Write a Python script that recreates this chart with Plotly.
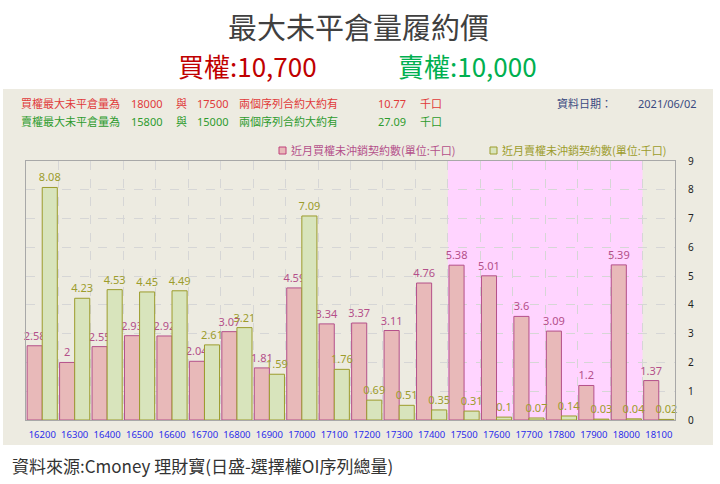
import plotly.graph_objects as go

strikes = ["16200", "16300", "16400", "16500", "16600", "16700", "16800", "16900", "17000", "17100",
           "17200", "17300", "17400", "17500", "17600", "17700", "17800", "17900", "18000", "18100"]
call_oi = [2.58, 2, 2.55, 2.93, 2.92, 2.04, 3.07, 1.81, 4.59, 3.34,
           3.37, 3.11, 4.76, 5.38, 5.01, 3.6, 3.09, 1.2, 5.39, 1.37]
put_oi = [8.08, 4.23, 4.53, 4.45, 4.49, 2.61, 3.21, 1.59, 7.09, 1.76,
          0.69, 0.51, 0.35, 0.31, 0.1, 0.07, 0.14, 0.03, 0.04, 0.02]
y_ticks = [0, 1, 2, 3, 4, 5, 6, 7, 8, 9]
highlight_start = "17500"
highlight_end = "18000"

call_name = "近月買權未沖銷契約數(單位:千口)"
put_name = "近月賣權未沖銷契約數(單位:千口)"

W, H = 720, 484
L, R, T, B = 26, 675, 161, 420


def px(x):
    return (x - L) / (R - L)


def py(y):
    return (B - y) / (B - T)


CJK = "Noto Sans CJK TC"

fig = go.Figure()
fig.add_trace(go.Bar(
    x=strikes, y=call_oi, name=call_name,
    marker=dict(color="#E8B9B9", line=dict(color="#B4508A", width=1)),
    text=[f"{v:g}" for v in call_oi], textposition="outside",
    textfont=dict(color="#B4508A", size=11, family="Noto Sans"),
    cliponaxis=False,
))
fig.add_trace(go.Bar(
    x=strikes, y=put_oi, name=put_name,
    marker=dict(color="#D8E4BC", line=dict(color="#9C9C2C", width=1)),
    text=[f"{v:g}" for v in put_oi], textposition="outside",
    textfont=dict(color="#9C9C2C", size=11, family="Noto Sans"),
    cliponaxis=False,
))

i0 = strikes.index(highlight_start)
i1 = strikes.index(highlight_end)

shapes = [
    # beige panel
    dict(type="rect", xref="paper", yref="paper", x0=px(3), x1=px(713), y0=py(445), y1=py(89),
         fillcolor="#EDEBE1", line=dict(width=0), layer="below"),
    # highlight region
    dict(type="rect", xref="x", yref="y", x0=i0 - 0.5, x1=i1 + 0.5, y0=0, y1=9,
         fillcolor="#FFD4FF", line=dict(width=0), layer="below"),
    # legend squares
    dict(type="rect", xref="paper", yref="paper", x0=px(279), x1=px(286), y0=py(154), y1=py(147),
         fillcolor="#E8B9B9", line=dict(color="#C0407A", width=1)),
    dict(type="rect", xref="paper", yref="paper", x0=px(490), x1=px(497), y0=py(154), y1=py(147),
         fillcolor="#D8E4BC", line=dict(color="#9C9C2C", width=1)),
]

annotations = []


def ann(text, x, y, size, color, xanchor="left", family=CJK):
    annotations.append(dict(text=text, x=px(x), y=py(y), xref="paper", yref="paper",
                            showarrow=False, xanchor=xanchor, yanchor="middle",
                            font=dict(size=size, color=color, family=family)))


ann("最大未平倉量履約價", 358, 26, 29, "#404040", xanchor="center")
ann("買權:10,700", 247, 65, 26, "#C00000", xanchor="center")
ann("賣權:10,000", 467, 65, 26, "#00B050", xanchor="center")

red = "#E03A3A"
green = "#2E9B2E"
blue = "#3A4A80"
ann("買權最大未平倉量為", 19, 103, 11, red)
ann("18000", 129, 103, 11, red, family="Noto Sans")
ann("與", 174, 103, 11, red)
ann("17500", 195, 103, 11, red, family="Noto Sans")
ann("兩個序列合約大約有", 237, 103, 11, red)
ann("10.77", 376, 103, 11, red, family="Noto Sans")
ann("千口", 418, 103, 11, red)
ann("資料日期：", 555, 103, 11, blue)
ann("2021/06/02", 636, 103, 11, blue, family="Noto Sans")

ann("賣權最大未平倉量為", 19, 121, 11, green)
ann("15800", 129, 121, 11, green, family="Noto Sans")
ann("與", 174, 121, 11, green)
ann("15000", 195, 121, 11, green, family="Noto Sans")
ann("兩個序列合約大約有", 237, 121, 11, green)
ann("27.09", 376, 121, 11, green, family="Noto Sans")
ann("千口", 418, 121, 11, green)

ann(call_name, 289, 150, 11, "#B4508A")
ann(put_name, 500, 150, 11, "#9C9C2C")

ann("資料來源:Cmoney 理財寶(日盛-選擇權OI序列總量)", 10, 465, 17, "#333333")

fig.update_layout(
    width=W, height=H,
    margin=dict(l=L, r=W - R, t=T, b=H - B, autoexpand=False),
    paper_bgcolor="white",
    plot_bgcolor="white",
    barmode="group",
    bargap=0.07,
    bargroupgap=0,
    showlegend=False,
    shapes=shapes,
    annotations=annotations,
    font=dict(family="Noto Sans"),
    uniformtext=dict(minsize=11, mode="show"),
)
fig.update_xaxes(
    type="category", tickson="boundaries", showgrid=True,
    gridcolor="#D6D6D6", griddash="dash", gridwidth=1,
    showline=True, linecolor="#A8A8A8", mirror=True,
    ticks="", tickangle=0,
    tickfont=dict(size=9.5, color="#2B2BEB", family="Noto Sans"),
    ticklabelstandoff=6,
)
fig.update_yaxes(
    range=[0, 9], side="right", tickvals=y_ticks, showgrid=True,
    gridcolor="#D6D6D6", griddash="dash", gridwidth=1,
    showline=True, linecolor="#A8A8A8", mirror=True,
    ticks="", tickfont=dict(size=10, color="#222222", family="Noto Sans"),
    ticklabelstandoff=10, zeroline=False,
)

fig.write_html("out.html", config={"displayModeBar": False},
               post_script="document.body.style.margin='0px';")
